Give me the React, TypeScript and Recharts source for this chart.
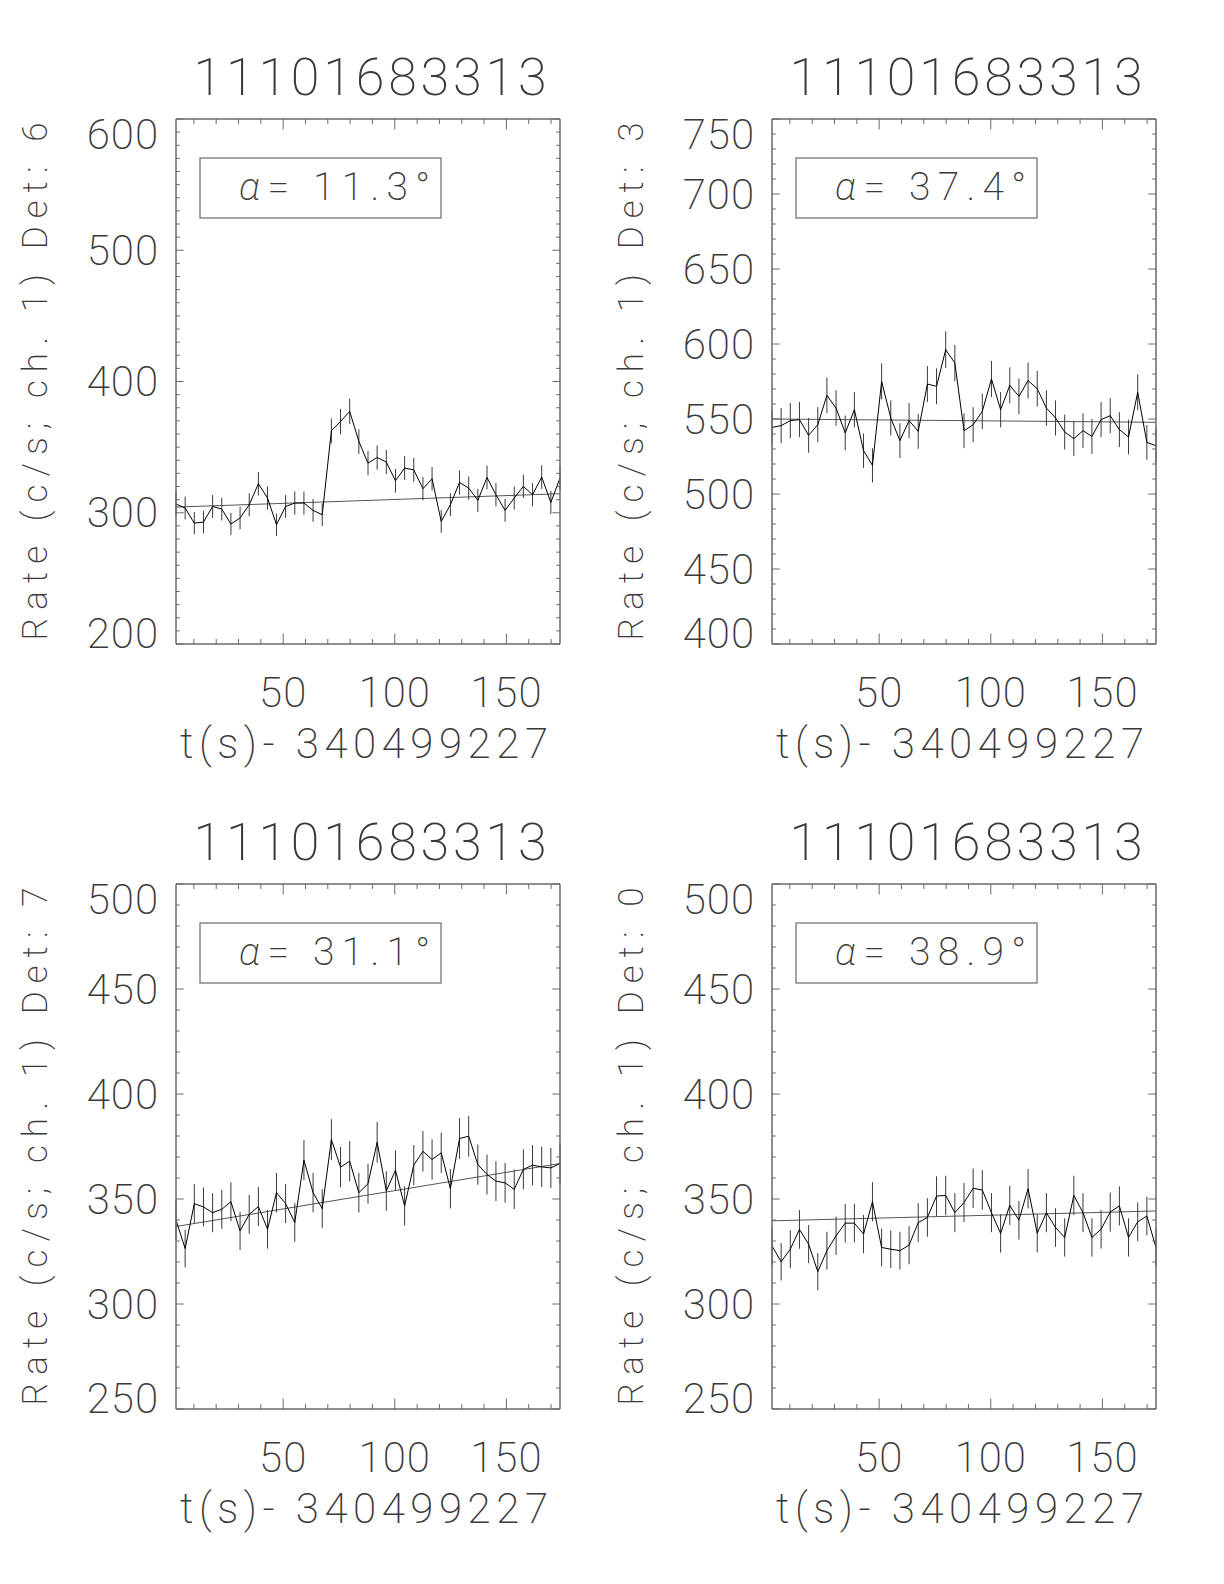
import React from 'react';
import { LineChart, Line, XAxis, YAxis, ErrorBar } from 'recharts';

// ---------- data ----------
const TIMES = [2.0, 6.1, 10.2, 14.3, 18.4, 22.5, 26.6, 30.7, 34.8, 38.9, 43.0, 47.0, 51.1, 55.2, 59.3, 63.4, 67.5, 71.6, 75.7, 79.8, 83.9, 88.0, 92.1, 96.2, 100.3, 104.4, 108.5, 112.6, 116.7, 120.8, 124.9, 129.0, 133.1, 137.2, 141.3, 145.3, 149.4, 153.5, 157.6, 161.7, 165.8, 169.9, 174.0];

const RATE_DET6 = [306.6, 303.6, 292.1, 292.9, 304.8, 302.8, 291.4, 296.0, 306.1, 322.1, 311.2, 290.9, 304.8, 307.4, 307.4, 301.8, 298.5, 362.4, 369.5, 377.2, 354.3, 337.8, 342.1, 338.6, 324.4, 334.0, 332.7, 318.3, 325.9, 293.4, 306.1, 323.1, 318.8, 309.4, 326.9, 313.7, 301.8, 311.2, 320.1, 313.7, 327.2, 307.9, 326.4];
const ERR_DET6 = [8.8, 8.7, 8.5, 8.6, 8.7, 8.7, 8.5, 8.6, 8.7, 9.0, 8.8, 8.5, 8.7, 8.8, 8.8, 8.7, 8.6, 9.5, 9.6, 9.7, 9.4, 9.2, 9.2, 9.2, 9.0, 9.1, 9.1, 8.9, 9.0, 8.6, 8.7, 9.0, 8.9, 8.8, 9.0, 8.9, 8.7, 8.8, 8.9, 8.9, 9.0, 8.8, 9.0];
const FIT_DET6 = [304.3, 314.5];

const RATE_DET3 = [544.4, 545.6, 548.9, 549.6, 539.1, 546.2, 565.8, 557.3, 540.7, 556.2, 528.9, 519.1, 575.1, 550.7, 535.6, 548.9, 541.8, 573.3, 571.8, 596.2, 587.3, 542.2, 546.2, 555.1, 576.7, 556.2, 572.4, 565.1, 575.6, 570.2, 557.3, 550.7, 541.3, 536.9, 542.2, 538.4, 549.6, 552.2, 542.9, 538.0, 567.8, 534.4, 532.2];
const ERR_DET3 = [11.7, 11.7, 11.7, 11.7, 11.6, 11.7, 11.9, 11.8, 11.6, 11.8, 11.5, 11.4, 12.0, 11.7, 11.6, 11.7, 11.6, 12.0, 12.0, 12.2, 12.1, 11.6, 11.7, 11.8, 12.0, 11.8, 12.0, 11.9, 12.0, 11.9, 11.8, 11.7, 11.6, 11.6, 11.6, 11.6, 11.7, 11.7, 11.6, 11.6, 11.9, 11.6, 11.5];
const FIT_DET3 = [550.0, 547.8];

const RATE_DET7 = [340.0, 326.4, 347.8, 346.2, 343.5, 345.1, 348.7, 334.8, 342.7, 346.4, 335.6, 353.0, 347.8, 338.8, 368.5, 353.0, 345.4, 378.3, 365.2, 368.0, 353.0, 357.3, 377.0, 353.8, 363.7, 346.7, 366.1, 372.7, 368.8, 372.0, 354.9, 378.8, 379.9, 366.4, 361.7, 358.5, 357.7, 354.6, 364.1, 366.1, 365.3, 364.8, 366.9];
const ERR_DET7 = [9.2, 9.0, 9.3, 9.3, 9.3, 9.3, 9.3, 9.1, 9.3, 9.3, 9.2, 9.4, 9.3, 9.2, 9.6, 9.4, 9.3, 9.7, 9.6, 9.6, 9.4, 9.5, 9.7, 9.4, 9.5, 9.3, 9.6, 9.7, 9.6, 9.6, 9.4, 9.7, 9.7, 9.6, 9.5, 9.5, 9.5, 9.4, 9.5, 9.6, 9.6, 9.5, 9.6];
const FIT_DET7 = [336.9, 366.9];

const RATE_DET0 = [327.7, 320.1, 326.1, 335.5, 328.5, 315.4, 325.4, 332.5, 338.5, 338.5, 333.3, 348.7, 326.9, 326.1, 325.4, 328.0, 338.8, 341.2, 351.4, 351.7, 343.5, 348.3, 355.1, 354.3, 343.5, 333.6, 347.0, 339.9, 354.9, 333.7, 343.5, 336.4, 331.7, 351.7, 343.5, 331.7, 335.6, 343.8, 346.7, 331.7, 339.1, 341.9, 326.9];
const ERR_DET0 = [9.1, 8.9, 9.0, 9.2, 9.1, 8.9, 9.0, 9.1, 9.2, 9.2, 9.1, 9.3, 9.0, 9.0, 9.0, 9.1, 9.2, 9.2, 9.4, 9.4, 9.3, 9.3, 9.4, 9.4, 9.3, 9.1, 9.3, 9.2, 9.4, 9.1, 9.3, 9.2, 9.1, 9.4, 9.3, 9.1, 9.2, 9.3, 9.3, 9.1, 9.2, 9.2, 9.0];
const FIT_DET0 = [339.6, 344.3];

const TITLE = '11101683313';
const X_TITLE = 't(s)- 340499227';
const X_DOMAIN = [2, 174];
const X_TICKS = [10, 20, 30, 40, 50, 60, 70, 80, 90, 100, 110, 120, 130, 140, 150, 160, 170];
const X_LABELS = [50, 100, 150];

// ---------- layout ----------
const FONT = "Roboto, 'DejaVu Sans', sans-serif";
const FW = 200;
const TXT = '#3a3a3a';
const AX = '#6a6a6a';
const CH_W = 612;
const CH_H = 790;
// plot area: left 176, top 119, right 560, bottom 644 (axes are 1px thick bands)
const M = { top: 118, left: 175, right: 51, bottom: 145 };
const PL = 176;
const PT = 119;
const PR = 560;
const PB = 644;

function range(a: number, b: number, s: number) {
  const r: number[] = [];
  for (let v = a; v <= b + 1e-9; v += s) r.push(Math.round(v * 1000) / 1000);
  return r;
}

type PanelProps = {
  left: number;
  top: number;
  det: string;
  alpha: string;
  rates: number[];
  errs: number[];
  fit: number[];
  yDomain: number[];
  yMajor: number;
};

function Panel({ left, top, det, alpha, rates, errs, fit, yDomain, yMajor }: PanelProps) {
  const n = TIMES.length;
  const data = TIMES.map((t, i) => ({
    t,
    rate: rates[i],
    err: errs[i],
    fit: i === 0 ? fit[0] : i === n - 1 ? fit[1] : null,
  }));
  const yTicks = range(yDomain[0], yDomain[1], 10);
  const isMajorY = (v: number) => Math.abs(v / yMajor - Math.round(v / yMajor)) < 1e-6;

  const xTickBottom = (p: any) => {
    const v = p.payload.value;
    const major = X_LABELS.includes(v);
    const len = major ? 10.5 : 5;
    return (
      <g>
        <line x1={p.x} x2={p.x} y1={PB} y2={PB - len} stroke={AX} strokeWidth={1} />
        {major && (
          <text x={p.x} y={PB + 48} textAnchor="middle" dominantBaseline="central" fill={TXT}
            fontFamily={FONT} fontWeight={FW} fontSize={42} letterSpacing={1}>{v}</text>
        )}
      </g>
    );
  };
  const xTickTop = (p: any) => {
    const v = p.payload.value;
    const major = X_LABELS.includes(v);
    const len = major ? 10.5 : 5;
    return <line x1={p.x} x2={p.x} y1={PT} y2={PT + len} stroke={AX} strokeWidth={1} />;
  };
  const yTickLeft = (p: any) => {
    const v = p.payload.value;
    const major = isMajorY(v);
    const len = major ? 7.7 : 3.8;
    let shift = 0;
    if (v === yDomain[1]) shift = 15;
    if (v === yDomain[0]) shift = -11;
    return (
      <g>
        <line x1={PL} x2={PL + len} y1={p.y} y2={p.y} stroke={AX} strokeWidth={1} />
        {major && (
          <text x={159} y={p.y + shift} textAnchor="end" dominantBaseline="central" fill={TXT}
            fontFamily={FONT} fontWeight={FW} fontSize={42} letterSpacing={1}>{v}</text>
        )}
      </g>
    );
  };
  const yTickRight = (p: any) => {
    const v = p.payload.value;
    const major = isMajorY(v);
    const len = major ? 7.7 : 3.8;
    return <line x1={PR} x2={PR - len} y1={p.y} y2={p.y} stroke={AX} strokeWidth={1} />;
  };

  const axisLine = { stroke: AX, strokeWidth: 1.5 };
  const yMid = (PT + PB) / 2;

  return (
    <div style={{ position: 'absolute', left, top, width: CH_W, height: CH_H }}>
      <LineChart width={CH_W} height={CH_H} data={data} margin={M}>
        <XAxis xAxisId="b" dataKey="t" type="number" domain={X_DOMAIN} ticks={X_TICKS} interval={0}
          orientation="bottom" height={1} tickLine={false} tickSize={0} tickMargin={0}
          axisLine={axisLine} tick={xTickBottom} allowDataOverflow />
        <XAxis xAxisId="t" dataKey="t" type="number" domain={X_DOMAIN} ticks={X_TICKS} interval={0}
          orientation="top" height={1} tickLine={false} tickSize={0} tickMargin={0}
          axisLine={axisLine} tick={xTickTop} allowDataOverflow />
        <YAxis yAxisId="l" type="number" domain={yDomain} ticks={yTicks} interval={0}
          orientation="left" width={1} tickLine={false} tickSize={0} tickMargin={0}
          axisLine={axisLine} tick={yTickLeft} allowDataOverflow />
        <YAxis yAxisId="r" type="number" domain={yDomain} ticks={yTicks} interval={0}
          orientation="right" width={1} tickLine={false} tickSize={0} tickMargin={0}
          axisLine={axisLine} tick={yTickRight} allowDataOverflow />
        <Line xAxisId="b" yAxisId="l" dataKey="fit" type="linear" connectNulls dot={false}
          stroke="#555" strokeWidth={1} isAnimationActive={false} />
        <Line xAxisId="b" yAxisId="l" dataKey="rate" type="linear" dot={false}
          stroke="#000" strokeWidth={1} isAnimationActive={false}>
          <ErrorBar dataKey="err" direction="y" width={0} stroke="#3a3a3a" strokeWidth={1} isAnimationActive={false} />
        </Line>
        <text x={370} y={77} textAnchor="middle" dominantBaseline="central" fill={TXT}
          fontFamily={FONT} fontWeight={FW} fontSize={52} textLength={353} lengthAdjust="spacing">{TITLE}</text>
        <text x={364} y={743} textAnchor="middle" dominantBaseline="central" fill={TXT}
          fontFamily={FONT} fontWeight={FW} fontSize={42} textLength={368} lengthAdjust="spacing">{X_TITLE}</text>
        <text x={35} y={yMid} transform={`rotate(-90 35 ${yMid})`} textAnchor="middle" dominantBaseline="central"
          fill={TXT} fontFamily={FONT} fontWeight={FW} fontSize={35} textLength={518} lengthAdjust="spacing">
          {`Rate (c/s; ch. 1) Det: ${det}`}
        </text>
        <rect x={PL + 24} y={PT + 39} width={241} height={60} fill="none" stroke={AX} strokeWidth={1.2} />
        <text x={239} y={PT + 68} textAnchor="start" dominantBaseline="central" fill={TXT}
          fontFamily={FONT} fontWeight={FW} fontSize={39} textLength={191} lengthAdjust="spacing">
          <tspan fontStyle="italic">α</tspan>{`= ${alpha}°`}
        </text>
      </LineChart>
    </div>
  );
}

export default function App() {
  return (
    <div style={{ position: 'absolute', left: 0, top: 0, width: 1224, height: 1584, background: '#fff' }}>
      <Panel left={0} top={0} det="6" alpha="11.3" rates={RATE_DET6} errs={ERR_DET6} fit={FIT_DET6}
        yDomain={[200, 600]} yMajor={100} />
      <Panel left={596} top={0} det="3" alpha="37.4" rates={RATE_DET3} errs={ERR_DET3} fit={FIT_DET3}
        yDomain={[400, 750]} yMajor={50} />
      <Panel left={0} top={765} det="7" alpha="31.1" rates={RATE_DET7} errs={ERR_DET7} fit={FIT_DET7}
        yDomain={[250, 500]} yMajor={50} />
      <Panel left={596} top={765} det="0" alpha="38.9" rates={RATE_DET0} errs={ERR_DET0} fit={FIT_DET0}
        yDomain={[250, 500]} yMajor={50} />
    </div>
  );
}
